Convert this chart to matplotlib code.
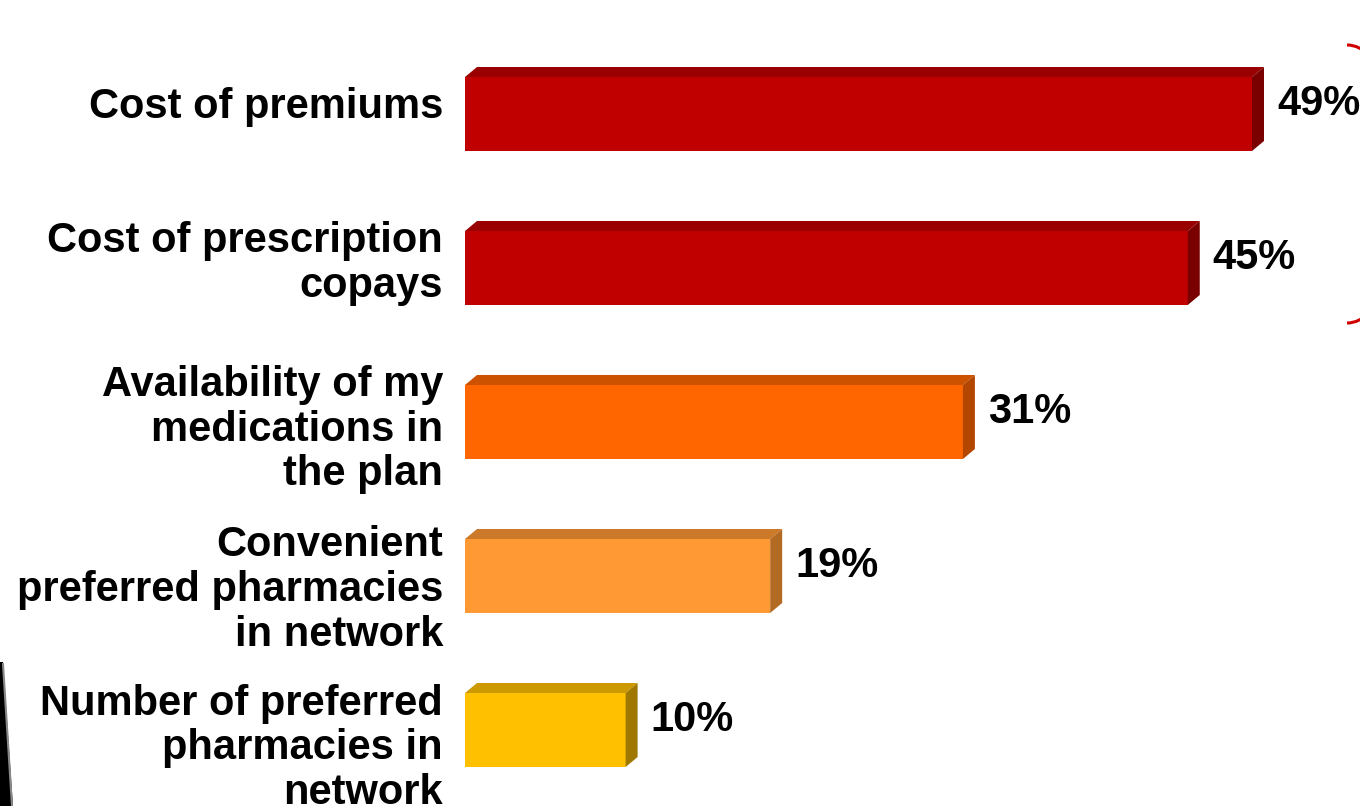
import numpy as np
import matplotlib
matplotlib.use('Agg')
import matplotlib.pyplot as plt
from matplotlib.patches import Arc, Polygon

categories = ['Cost of premiums',
              'Cost of prescription\ncopays',
              'Availability of my\nmedications in\nthe plan',
              'Convenient\npreferred pharmacies\nin network',
              'Number of preferred\npharmacies in\nnetwork']
values = [49, 45, 31, 19, 10]
labels = ['49%', '45%', '31%', '19%', '10%']

front = ['#C00000', '#C00000', '#FF6600', '#FF9933', '#FFC000']
top = ['#990000', '#990000', '#CC5200', '#CC7A29', '#CC9A00']
side = ['#7A0000', '#7A0000', '#B34700', '#B36B24', '#A07800']

plt.rcParams['font.family'] = ['Liberation Sans', 'DejaVu Sans']

W, H = 1360, 806
fig = plt.figure(figsize=(W / 100, H / 100), dpi=100)

# pixel mapping: 0% at x=465, 49% at x=1252; bar centres at 114 + 154*i
ppx = (1252 - 465) / 49.0
x0 = 465
ax = fig.add_axes([x0 / W, 0, 1 - x0 / W, 1])
ax.set_xlim(0, (W - x0) / ppx)
ax.set_ylim((H - 114) / 154.0, -114 / 154.0)
ax.axis('off')

bh = 74 / 154.0
dx = 12 / ppx
dy = 10 / 154.0
label_dy = [-0.045, -0.03, 0.05, 0.09, 0.12]

for i, v in enumerate(values):
    y1, y2 = i - bh / 2, i + bh / 2
    ax.fill([0, v, v, 0], [y1, y1, y2, y2], color=front[i], lw=0)
    ax.fill([0, v, v + dx, dx], [y1, y1, y1 - dy, y1 - dy], color=top[i], lw=0)
    ax.fill([v, v + dx, v + dx, v], [y1, y1 - dy, y2 - dy, y2], color=side[i], lw=0)
    ax.text(v + dx + 13 / ppx, i - dy / 2 - 0.03, labels[i], ha='left', va='center',
            fontsize=30, fontweight='bold', color='black', clip_on=False)
    ax.text(-22 / ppx, i + label_dy[i], categories[i], ha='right', va='center',
            fontsize=30, fontweight='bold', color='black', linespacing=1.15,
            multialignment='right', clip_on=False)

# decorations in pixel space
deco = fig.add_axes([0, 0, 1, 1], zorder=-1)
deco.set_xlim(0, W)
deco.set_ylim(H, 0)
deco.axis('off')
deco.add_patch(Arc((1347, 184), 120, 278, theta1=-90, theta2=90,
                   color='#D00000', lw=2.2))
deco.add_patch(Polygon([(0, 662), (3, 662), (13, 806), (0, 806)],
                       closed=True, color='black', lw=0))
deco.plot([3, 12], [664, 806], color='#888888', lw=1.5)

fig.savefig('out.png', dpi=100)
